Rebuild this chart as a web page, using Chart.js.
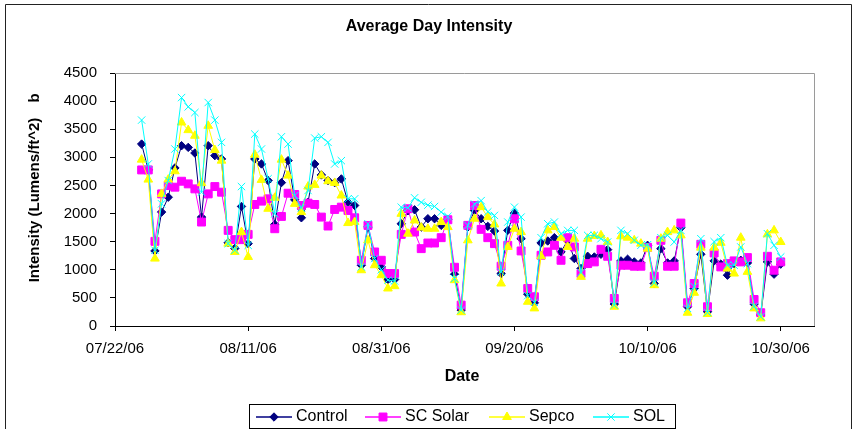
<!DOCTYPE html>
<html><head><meta charset="utf-8">
<script src="https://cdn.jsdelivr.net/npm/chart.js@4"></script>
<style>html,body{margin:0;padding:0;background:#fff;overflow:hidden}#wrap{position:relative;width:854px;height:429px}</style>
</head><body><div id="wrap"><canvas id="c" width="854" height="429"></canvas></div>
<script>
const startDate = "07/22/06";
const dates = [
"07/26/06","07/27/06","07/28/06","07/29/06","07/30/06","07/31/06",
"08/01/06","08/02/06","08/03/06","08/04/06","08/05/06","08/06/06","08/07/06","08/08/06","08/09/06","08/10/06",
"08/11/06","08/12/06","08/13/06","08/14/06","08/15/06","08/16/06","08/17/06","08/18/06","08/19/06","08/20/06",
"08/21/06","08/22/06","08/23/06","08/24/06","08/25/06","08/26/06","08/27/06","08/28/06","08/29/06","08/30/06","08/31/06",
"09/01/06","09/02/06","09/03/06","09/04/06","09/05/06","09/06/06","09/07/06","09/08/06","09/09/06","09/10/06",
"09/11/06","09/12/06","09/13/06","09/14/06","09/15/06","09/16/06","09/17/06","09/18/06","09/19/06","09/20/06",
"09/21/06","09/22/06","09/23/06","09/24/06","09/25/06","09/26/06","09/27/06","09/28/06","09/29/06","09/30/06",
"10/01/06","10/02/06","10/03/06","10/04/06","10/05/06","10/06/06","10/07/06","10/08/06","10/09/06","10/10/06",
"10/11/06","10/12/06","10/13/06","10/14/06","10/15/06","10/16/06","10/17/06","10/18/06","10/19/06","10/20/06",
"10/21/06","10/22/06","10/23/06","10/24/06","10/25/06","10/26/06","10/27/06","10/28/06","10/29/06","10/30/06"
];
const control = [
3236,2776,1335,2026,2291,2811,3207,3177,3077,1937,
3207,3030,2971,1480,1380,2126,1465,2971,2882,2587,
1807,2550,2941,2244,1925,2200,2882,2687,2587,2550,
2616,2200,2144,1081,1760,1199,1051,827,827,1819,
2050,2067,1760,1908,1908,1790,1900,920,283,1760,
2055,1908,1772,1689,933,1701,2008,1553,567,413,
1476,1512,1571,1317,1524,1200,1022,1240,1228,1276,
1358,390,1158,1187,1140,1122,1435,756,1376,1122,
1158,1748,343,667,1276,254,1158,1100,904,1110,
1169,1122,390,195,1140,922,1100
];
const scSolar = [
2776,2776,1506,2350,2498,2469,2575,2528,2439,1849,
2350,2480,2380,1701,1536,1536,1630,2162,2221,2262,
1730,1949,2362,2339,2144,2185,2162,1937,1778,2073,
2114,2055,1925,1169,1789,1317,1169,933,933,1630,
2085,1671,1376,1476,1476,1571,1890,1045,372,1790,
2144,1719,1571,1465,1063,1435,1908,1335,667,520,
1258,1317,1435,1169,1571,1406,933,1110,1140,1364,
1240,490,1081,1081,1063,1063,1400,886,1524,1063,
1063,1831,413,756,1453,343,1299,1051,1110,1158,
1140,1217,472,236,1240,992,1140
];
const sepco = [
2959,2604,1199,2350,2604,2752,3620,3484,3384,2540,
3561,3130,2941,1465,1317,1671,1228,3047,2599,2085,
2280,2959,2675,2173,2026,2480,2510,2675,2575,2545,
2321,1831,1849,992,1524,1081,904,667,709,1996,
1642,1878,1750,1730,1730,1849,1760,815,245,1524,
1908,2114,1937,1807,756,1406,1730,1671,431,313,
1240,1701,1760,1571,1406,1553,874,1553,1600,1612,
1494,343,1595,1571,1524,1465,1376,726,1553,1671,
1701,1612,236,591,1394,213,1394,1480,1022,933,
1571,963,313,136,1630,1701,1494
];
const sol = [
3662,2882,1347,2173,2587,3148,4063,3898,3797,2380,
3975,3662,3266,1465,1347,2480,1435,3414,3148,2620,
1996,3366,3236,2321,2100,2410,3343,3366,3266,2882,
2941,2262,2262,1051,1819,1200,1000,815,800,2114,
2100,2280,2200,2150,2126,2026,1950,845,283,1790,
2170,2230,2030,1967,963,1849,2114,1937,540,420,
1571,1819,1849,1640,1700,1701,950,1612,1612,1553,
1494,372,1701,1642,1524,1435,1447,768,1571,1612,
1494,1700,313,700,1553,240,1500,1571,1080,1081,
1406,1110,350,165,1642,1435,1228
];
const seriesNames = ["Control","SC Solar","Sepco","SOL"];
const tickLabels = ["07/22/06","08/11/06","08/31/06","09/20/06","10/10/06","10/30/06"];
const endDate = "11/04/06";

function dayNum(s){const p=s.split('/');return Date.UTC(2000+ +p[2],+p[0]-1,+p[1])/86400000;}
const d0 = dayNum(startDate);
const xs = dates.map(s=>dayNum(s)-d0);
const tickDays = tickLabels.map(s=>dayNum(s)-d0);
const xMax = dayNum(endDate)-d0;
const pts = arr => arr.map((v,i)=>({x:xs[i],y:v}));

const styles = [
  {color:'#000080', style:'rectRot', r:4.2},
  {color:'#FF00FF', style:'rect', r:5.6},
  {color:'#FFFF00', style:'triangle', r:5},
  {color:'#00FFFF', style:'crossRot', r:5.2}
];
const seriesData = [control, scSolar, sepco, sol];
const FONT = 'Liberation Sans, Arial, sans-serif';

const datasets = seriesData.map((arr,i)=>({
  label: seriesNames[i],
  data: pts(arr),
  borderColor: styles[i].color,
  backgroundColor: styles[i].color,
  borderWidth: 1,
  pointStyle: styles[i].style,
  pointRadius: styles[i].r,
  pointHoverRadius: styles[i].r,
  pointBackgroundColor: styles[i].color,
  pointBorderColor: styles[i].color,
  pointBorderWidth: 1,
  tension: 0,
  fill: false,
  order: 3 - i
}));

const deco = {
  id:'deco',
  beforeDraw(chart){
    const ctx=chart.ctx; ctx.save(); ctx.fillStyle='#fff'; ctx.fillRect(0,0,chart.width,chart.height); ctx.restore();
  },
  beforeDatasetsDraw(chart){
    const ctx=chart.ctx, a=chart.chartArea; ctx.save();
    ctx.strokeStyle='#9a9a9a'; ctx.lineWidth=1;
    ctx.beginPath(); ctx.moveTo(a.left, Math.round(a.top)+0.5); ctx.lineTo(Math.round(a.right)+0.5, Math.round(a.top)+0.5);
    ctx.lineTo(Math.round(a.right)+0.5, a.bottom); ctx.stroke(); ctx.restore();
  },
  afterDraw(chart){
    const ctx=chart.ctx; ctx.save();
    // outer frame
    ctx.strokeStyle='#222'; ctx.lineWidth=1;
    ctx.beginPath(); ctx.moveTo(5.5,429); ctx.lineTo(5.5,4.5); ctx.lineTo(851.5,4.5); ctx.lineTo(851.5,429); ctx.stroke();
    ctx.fillStyle='#000';
    // title
    ctx.font='bold 16px '+FONT; ctx.textAlign='center'; ctx.textBaseline='middle';
    ctx.fillText('Average Day Intensity', 429, 27);
    // x title
    ctx.font='bold 16px '+FONT;
    ctx.fillText('Date', 462, 377);
    // y title
    ctx.save(); ctx.translate(35, 200); ctx.rotate(-Math.PI/2);
    ctx.font='bold 15px '+FONT; ctx.fillText('Intensity (Lumens/ft^2)', 0, 0);
    ctx.fillText('b', 102, 0);
    ctx.restore();
    // legend
    ctx.strokeStyle='#000'; ctx.lineWidth=1;
    ctx.strokeRect(249.5, 404.5, 426, 24);
    const items=[{x:256,t:296},{x:365,t:405},{x:489,t:529},{x:593,t:633}];
    items.forEach((it,i)=>{
      const y=417;
      ctx.strokeStyle=styles[i].color; ctx.lineWidth=1.5;
      ctx.beginPath(); ctx.moveTo(it.x,y); ctx.lineTo(it.x+36,y); ctx.stroke();
      ctx.fillStyle=styles[i].color; ctx.strokeStyle=styles[i].color; ctx.lineWidth=1;
      Chart.helpers.drawPoint(ctx,{pointStyle:styles[i].style,radius:styles[i].r,rotation:0,borderWidth:1},it.x+18,y);
      ctx.fillStyle='#000'; ctx.font='16px '+FONT; ctx.textAlign='left'; ctx.textBaseline='middle';
      ctx.fillText(seriesNames[i], it.t, y);
    });
    ctx.restore();
  }
};

new Chart(document.getElementById('c'), {
  type:'line',
  data:{datasets},
  options:{
    responsive:false, animation:false, devicePixelRatio:1,
    layout:{padding:{left:0,top:73,right:40,bottom:0}},
    plugins:{legend:{display:false},title:{display:false},tooltip:{enabled:false}},
    scales:{
      x:{type:'linear', min:0, max:xMax,
        afterBuildTicks(s){ s.ticks = tickDays.map(v=>({value:v})); },
        afterFit(s){ s.height = 103; s.paddingLeft=0; s.paddingRight=0; },
        grid:{display:true, drawOnChartArea:false, drawTicks:true, tickLength:5, color:'#000'},
        border:{display:true, color:'#000', width:1},
        ticks:{autoSkip:false, maxRotation:0, padding:9, color:'#000', font:{family:FONT,size:15},
          callback:(v)=>{const k=tickDays.indexOf(v); return k>=0?tickLabels[k]:'';}}
      },
      y:{min:0, max:4500,
        afterFit(s){ s.width = 115; },
        grid:{display:true, drawOnChartArea:false, drawTicks:true, tickLength:5, color:'#000'},
        border:{display:true, color:'#000', width:1},
        ticks:{stepSize:500, padding:13, color:'#000', font:{family:FONT,size:15},
          callback:(v)=>String(v)}
      }
    }
  },
  plugins:[deco]
});
</script></body></html>
